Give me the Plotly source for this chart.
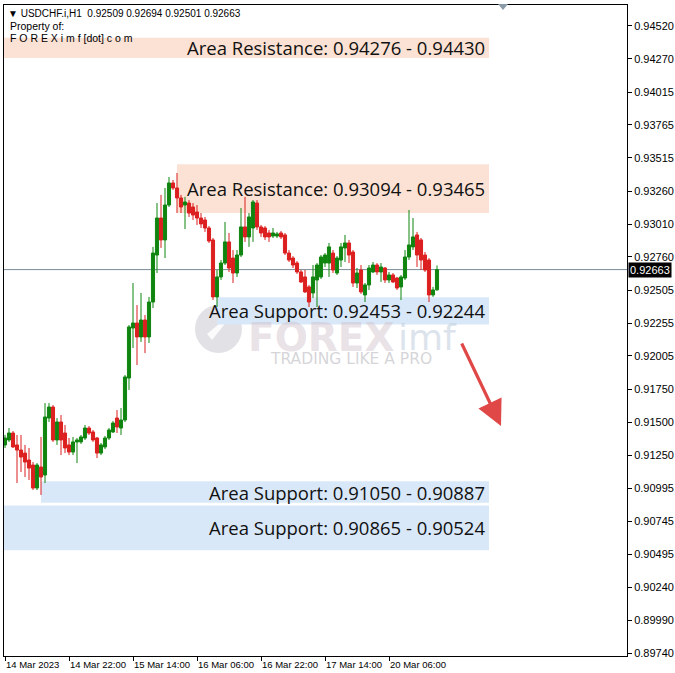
import plotly.graph_objects as go

# ---------------- data ----------------
symbol = "USDCHF.i,H1"

open_ = [0.91327, 0.91365, 0.91418, 0.91327, 0.91288, 0.91265, 0.91212, 0.91174, 0.90999, 0.91159,
         0.91098, 0.91532, 0.91616, 0.91365, 0.91502, 0.91418, 0.91327, 0.91273, 0.91350, 0.91350,
         0.91380, 0.91456, 0.91426, 0.91380, 0.91265, 0.91312, 0.91380, 0.91426, 0.91532, 0.91456,
         0.91517, 0.91837, 0.92218, 0.92256, 0.92150, 0.92279, 0.92150, 0.92416, 0.92774, 0.93056,
         0.92889, 0.93155, 0.93323, 0.93285, 0.93209, 0.93155, 0.93170, 0.93140, 0.93102, 0.93056,
         0.93041, 0.92980, 0.92889, 0.92455, 0.92607, 0.92713, 0.92874, 0.92751, 0.92637, 0.92774,
         0.92988, 0.92912, 0.92980, 0.93170, 0.92988, 0.92980, 0.92942, 0.92919, 0.92919, 0.92942,
         0.92927, 0.92789, 0.92751, 0.92713, 0.92645, 0.92607, 0.92531, 0.92485, 0.92584, 0.92607,
         0.92713, 0.92713, 0.92789, 0.92637, 0.92736, 0.92828, 0.92866, 0.92797, 0.92561, 0.92660,
         0.92470, 0.92546, 0.92645, 0.92698, 0.92645, 0.92675, 0.92584, 0.92622, 0.92599, 0.92531,
         0.92599, 0.92759, 0.92836, 0.92927, 0.92889, 0.92774, 0.92736, 0.92470, 0.92509]

high = [0.91403, 0.91456, 0.91433, 0.91403, 0.91403, 0.91327, 0.91304, 0.91197, 0.91189, 0.91388,
        0.91646, 0.91646, 0.91631, 0.91532, 0.91555, 0.91479, 0.91380, 0.91388, 0.91380, 0.91403,
        0.91479, 0.91471, 0.91441, 0.91388, 0.91342, 0.91395, 0.91456, 0.91509, 0.91593, 0.91608,
        0.91860, 0.92241, 0.92561, 0.92393, 0.92485, 0.92317, 0.92455, 0.92836, 0.93170, 0.93232,
        0.93285, 0.93369, 0.93346, 0.93399, 0.93232, 0.93217, 0.93193, 0.93170, 0.93155, 0.93094,
        0.93064, 0.92995, 0.92904, 0.92660, 0.92736, 0.93026, 0.92942, 0.92812, 0.92812, 0.93132,
        0.93217, 0.93094, 0.93193, 0.93193, 0.93003, 0.92995, 0.92965, 0.92980, 0.92950, 0.92957,
        0.92942, 0.92812, 0.92766, 0.92728, 0.92660, 0.92660, 0.92546, 0.92698, 0.92713, 0.92774,
        0.92789, 0.92866, 0.92812, 0.92766, 0.92866, 0.92927, 0.92889, 0.92812, 0.92675, 0.92698,
        0.92561, 0.92698, 0.92721, 0.92713, 0.92713, 0.92683, 0.92645, 0.92637, 0.92607, 0.92622,
        0.92812, 0.93117, 0.93056, 0.92950, 0.92904, 0.92797, 0.92751, 0.92531, 0.92694]

low = [0.91304, 0.91350, 0.91304, 0.91037, 0.91121, 0.91083, 0.91060, 0.90984, 0.90984, 0.90946,
       0.91037, 0.91502, 0.91350, 0.91327, 0.91250, 0.91265, 0.91250, 0.91250, 0.91189, 0.91335,
       0.91365, 0.91403, 0.91350, 0.91227, 0.91250, 0.91296, 0.91365, 0.91418, 0.91418, 0.91403,
       0.91502, 0.91746, 0.92066, 0.91936, 0.92112, 0.92027, 0.92104, 0.92370, 0.92637, 0.92828,
       0.92751, 0.93140, 0.93270, 0.93094, 0.93094, 0.92972, 0.93064, 0.93041, 0.93003, 0.92980,
       0.92950, 0.92866, 0.92431, 0.92378, 0.92584, 0.92698, 0.92645, 0.92561, 0.92607, 0.92759,
       0.92874, 0.92836, 0.92874, 0.92965, 0.92912, 0.92889, 0.92874, 0.92904, 0.92904, 0.92896,
       0.92774, 0.92721, 0.92675, 0.92630, 0.92561, 0.92485, 0.92378, 0.92447, 0.92378, 0.92591,
       0.92683, 0.92607, 0.92637, 0.92622, 0.92683, 0.92721, 0.92713, 0.92531, 0.92523, 0.92478,
       0.92416, 0.92508, 0.92637, 0.92622, 0.92569, 0.92561, 0.92561, 0.92561, 0.92508, 0.92431,
       0.92584, 0.92736, 0.92812, 0.92683, 0.92660, 0.92645, 0.92416, 0.92455, 0.92501]

close = [0.91380, 0.91418, 0.91312, 0.91288, 0.91235, 0.91197, 0.91151, 0.90999, 0.91174, 0.91083,
         0.91540, 0.91616, 0.91365, 0.91502, 0.91365, 0.91304, 0.91273, 0.91350, 0.91365, 0.91388,
         0.91456, 0.91418, 0.91365, 0.91265, 0.91327, 0.91380, 0.91441, 0.91494, 0.91464, 0.91517,
         0.91845, 0.92226, 0.92256, 0.92150, 0.92279, 0.92150, 0.92416, 0.92789, 0.93056, 0.92889,
         0.93155, 0.93323, 0.93285, 0.93209, 0.93140, 0.93178, 0.93094, 0.93079, 0.93056, 0.93011,
         0.92980, 0.92881, 0.92455, 0.92607, 0.92713, 0.92874, 0.92675, 0.92637, 0.92774, 0.92988,
         0.92912, 0.93064, 0.93178, 0.92988, 0.92942, 0.92912, 0.92912, 0.92942, 0.92935, 0.92912,
         0.92789, 0.92736, 0.92698, 0.92645, 0.92569, 0.92493, 0.92416, 0.92607, 0.92698, 0.92759,
         0.92774, 0.92836, 0.92660, 0.92751, 0.92836, 0.92866, 0.92774, 0.92561, 0.92637, 0.92493,
         0.92546, 0.92675, 0.92698, 0.92645, 0.92683, 0.92584, 0.92622, 0.92569, 0.92523, 0.92607,
         0.92759, 0.92851, 0.92912, 0.92774, 0.92736, 0.92660, 0.92470, 0.92508, 0.92663]

bar_index = list(range(len(open_)))

x_tick_bars = [0, 16, 32, 48, 64, 80, 96]
x_tick_labels = ["14 Mar 2023", "14 Mar 22:00", "15 Mar 14:00", "16 Mar 06:00",
                 "16 Mar 22:00", "17 Mar 14:00", "20 Mar 06:00"]

y_tick_labels = ["0.94520", "0.94270", "0.94015", "0.93765", "0.93515", "0.93260", "0.93010",
                 "0.92760", "0.92505", "0.92255", "0.92005", "0.91750", "0.91500", "0.91250",
                 "0.90995", "0.90745", "0.90495", "0.90240", "0.89990", "0.89740"]

zone_kinds = ["Resistance", "Resistance", "Support", "Support", "Support"]
zone_first = [0.94276, 0.93094, 0.92453, 0.91050, 0.90865]
zone_second = [0.94430, 0.93465, 0.92244, 0.90887, 0.90524]
zone_start_bar = [-0.25, 43, 53, 9, -0.25]
zone_end_bar = 121

current_price = 0.92663

# ---------------- styles ----------------
UP = "#0f850f"
DOWN = "#dc1f1f"
RES_FILL = "rgb(251,226,212)"
SUP_FILL = "rgb(217,232,248)"
FONT = "Liberation Sans"

# plot area in pixels (for paper-positioned decorations)
PL, PT, PW, PH = 4, 5, 623, 651


def px(xp):
    return (xp - PL) / PW


def py(yp):
    return (PT + PH - yp) / PH


fig = go.Figure()

# zones
for kind, a, b, xs in zip(zone_kinds, zone_first, zone_second, zone_start_bar):
    fig.add_shape(type="rect", xref="x", yref="y", x0=xs, x1=zone_end_bar,
                  y0=min(a, b), y1=max(a, b), fillcolor=RES_FILL if kind == "Resistance" else SUP_FILL,
                  line_width=0, layer="below")

# watermark logo
fig.add_shape(type="circle", xref="paper", yref="paper",
              x0=px(195), x1=px(242), y0=py(353), y1=py(305),
              fillcolor="rgba(175,175,190,0.38)", line_width=0, layer="below")
fig.add_shape(type="path", xref="paper", yref="paper",
              path=f"M {px(207)} {py(334)} L {px(226)} {py(318)} L {px(220)} {py(318)} L {px(230)} {py(312)} "
                   f"L {px(232)} {py(324)} L {px(228)} {py(320)} L {px(212)} {py(340)} Z",
              fillcolor="rgba(255,255,255,0.85)", line_width=0, layer="below")
fig.add_annotation(xref="paper", yref="paper", x=px(246), y=py(337),
                   text="<b>FOREX</b>", showarrow=False, xanchor="left", yanchor="middle",
                   font=dict(family="DejaVu Sans", size=39, color="rgba(205,190,200,0.45)"))
fig.add_annotation(xref="paper", yref="paper", x=px(396), y=py(337),
                   text="imf", showarrow=False, xanchor="left", yanchor="middle",
                   font=dict(family="DejaVu Sans", size=36, color="rgba(185,200,218,0.5)"))
fig.add_annotation(xref="paper", yref="paper", x=px(351), y=py(359),
                   text="TRADING LIKE A PRO", showarrow=False, xanchor="center", yanchor="middle",
                   font=dict(family="DejaVu Sans", size=15.5, color="rgba(195,195,200,0.7)"))

# current price line
fig.add_hline(y=current_price, line=dict(color="#7a8a99", width=1), layer="below")

fig.add_trace(go.Candlestick(
    x=bar_index, open=open_, high=high, low=low, close=close,
    increasing=dict(line=dict(color=UP, width=1), fillcolor=UP),
    decreasing=dict(line=dict(color=DOWN, width=1), fillcolor=DOWN),
    whiskerwidth=0, showlegend=False, hoverinfo="skip"))

# zone labels
for kind, a, b in zip(zone_kinds, zone_first, zone_second):
    fig.add_annotation(x=120.5, y=(a + b) / 2, xref="x", yref="y",
                       text=f"Area {kind}: {a:.5f} - {b:.5f}", showarrow=False,
                       xanchor="right", yanchor="middle",
                       font=dict(family="Open Sans", size=18.5, color="#111111"))

# red arrow
fig.add_annotation(xref="paper", yref="paper", x=px(501), y=py(426),
                   ax=-40, ay=-84, axref="pixel", ayref="pixel", text="", showarrow=True,
                   arrowhead=2, arrowsize=1.6, arrowwidth=3.2, arrowcolor="#e04848")

# header texts
fig.add_annotation(xref="paper", yref="paper", x=px(6), y=py(13),
                   text=f"▼ {symbol}  {open_[-1]:.5f} {high[-1]:.5f} {low[-1]:.5f} {close[-1]:.5f}",
                   showarrow=False, xanchor="left", yanchor="middle",
                   font=dict(family=FONT, size=10, color="#000000"))
fig.add_annotation(xref="paper", yref="paper", x=px(8), y=py(26),
                   text="Property of:", showarrow=False, xanchor="left", yanchor="middle",
                   font=dict(family=FONT, size=10.5, color="#000000"))
fig.add_annotation(xref="paper", yref="paper", x=px(8), y=py(38),
                   text="F O R E X i m f [dot] c o m", showarrow=False, xanchor="left", yanchor="middle",
                   font=dict(family=FONT, size=10.5, color="#000000"))

# current price tag
fig.add_annotation(xref="paper", yref="y", x=1.0, y=current_price, text=f"{current_price:.5f}",
                   showarrow=False, xanchor="left", yanchor="middle", bgcolor="#000000",
                   borderpad=1, xshift=1,
                   font=dict(family=FONT, size=11, color="#ffffff"))

# shift marker triangle at the top
fig.add_shape(type="path", xref="paper", yref="paper",
              path=f"M {px(498)} {py(4)} L {px(508)} {py(4)} L {px(503)} {py(10)} Z",
              fillcolor="#8a9aa8", line_width=0)

fig.update_layout(
    width=675, height=673,
    margin=dict(l=PL, r=675 - PL - PW, t=PT, b=673 - PT - PH, autoexpand=False),
    paper_bgcolor="white", plot_bgcolor="white",
    showlegend=False,
    boxgap=0.22, boxgroupgap=0,
    xaxis=dict(range=[-0.25, 155.5], rangeslider=dict(visible=False), showgrid=False, zeroline=False,
               tickmode="array", tickvals=x_tick_bars, ticktext=x_tick_labels, tickangle=0,
               automargin=False,
               ticks="outside", ticklen=4, tickcolor="#000", ticklabelposition="outside right",
               tickfont=dict(family=FONT, size=9.5, color="#000"),
               showline=True, linecolor="#000", linewidth=1, mirror=True),
    yaxis=dict(range=[0.89719, 0.94679], side="right", showgrid=False, zeroline=False,
               tickmode="array", tickvals=[float(t) for t in y_tick_labels], ticktext=y_tick_labels,
               automargin=False,
               ticks="outside", ticklen=4, tickcolor="#000",
               tickfont=dict(family=FONT, size=11, color="#000"),
               showline=True, linecolor="#000", linewidth=1, mirror=True),
)

fig.write_html("out.html", config={"displayModeBar": False},
               post_script="document.body.style.margin='0';document.body.style.overflow='hidden';")
